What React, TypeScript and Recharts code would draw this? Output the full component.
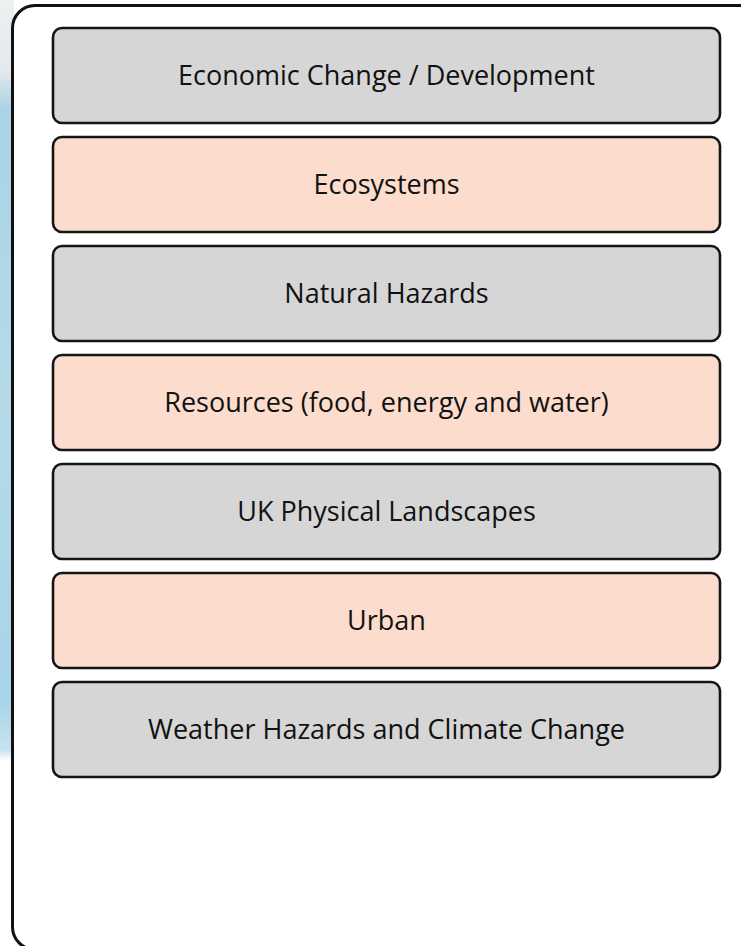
import React from 'react';
import { BarChart, Bar, XAxis, YAxis, LabelList } from 'recharts';

const topics = [
  'Economic Change / Development',
  'Ecosystems',
  'Natural Hazards',
  'Resources (food, energy and water)',
  'UK Physical Landscapes',
  'Urban',
  'Weather Hazards and Climate Change',
];
const values = [1, 1, 1, 1, 1, 1, 1];
const fills = ['#d6d6d6', '#fcdccc', '#d6d6d6', '#fcdccc', '#d6d6d6', '#fcdccc', '#d6d6d6'];

const data = topics.map((name, i) => ({ name, value: values[i], fill: fills[i] }));

const TopicBox = (props: any) => {
  const { x, y, width, height, fill } = props;
  return (
    <rect
      x={x}
      y={y}
      width={width}
      height={height}
      rx={9}
      ry={9}
      fill={fill}
      stroke="#151515"
      strokeWidth={2.6}
    />
  );
};

export default function App() {
  return (
    <div style={{ position: 'absolute', left: 0, top: 0, width: 741, height: 946, overflow: 'hidden', background: '#fff' }}>
      {/* map strip peeking out on the left */}
      <div
        style={{
          position: 'absolute',
          left: 0,
          top: 0,
          width: 14,
          height: 760,
          background: 'linear-gradient(to bottom, #eef0f1 0px, #e4e9ec 70px, #a9d3e6 110px, #b5dbe9 400px, #a8d4e8 700px, #c7e3ef 750px, #ffffff 760px)',
        }}
      />
      <div
        style={{
          position: 'absolute',
          left: 11,
          top: 4,
          width: 752,
          height: 947,
          border: '3px solid #111',
          borderRadius: 24,
          background: '#fff',
          boxSizing: 'border-box',
        }}
      />
      <div style={{ position: 'absolute', left: 0, top: 0 }}>
        <BarChart
          width={741}
          height={946}
          data={data}
          layout="vertical"
          margin={{ top: 21, right: 21, bottom: 162, left: 53 }}
          barCategoryGap={7}
        >
          <XAxis type="number" domain={[0, 1]} hide />
          <YAxis type="category" dataKey="name" hide />
          <Bar dataKey="value" shape={<TopicBox />} isAnimationActive={false}>
            <LabelList
              dataKey="name"
              position="center"
              fill="#111"
              fontSize={27}
              fontFamily="'Open Sans', sans-serif"
            />
          </Bar>
        </BarChart>
      </div>
    </div>
  );
}
